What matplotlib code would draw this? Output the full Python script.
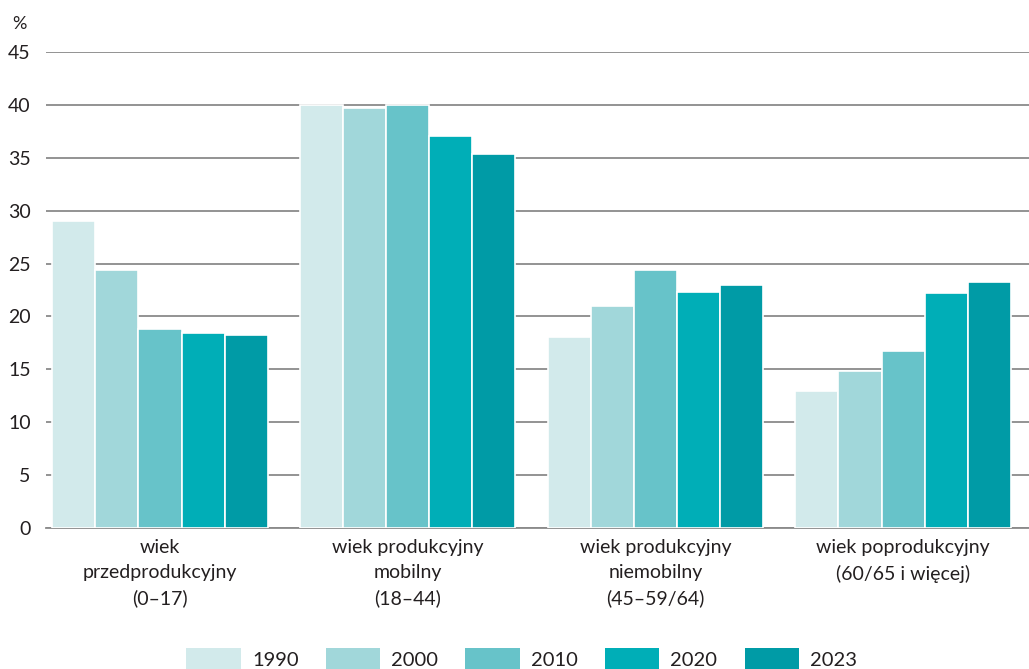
import numpy as np
import matplotlib.pyplot as plt
from matplotlib.patches import Patch

plt.rcParams['font.family'] = ['Lato', 'DejaVu Sans']

groups = ["wiek\nprzedprodukcyjny\n(0–17)", "wiek produkcyjny\nmobilny\n(18–44)",
          "wiek produkcyjny\nniemobilny\n(45–59/64)", "wiek poprodukcyjny\n(60/65 i więcej)"]
years = ["1990", "2000", "2010", "2020", "2023"]
v1990 = [29.0, 40.0, 18.1, 12.9]
v2000 = [24.4, 39.7, 21.0, 14.8]
v2010 = [18.8, 40.0, 24.4, 16.7]
v2020 = [18.4, 37.1, 22.3, 22.2]
v2023 = [18.2, 35.4, 23.0, 23.3]
series = [v1990, v2000, v2010, v2020, v2023]
colors = ["#d2eaeb", "#a1d7da", "#67c3c9", "#00aeb7", "#009ba6"]
txt = "#231f20"

fig = plt.figure(figsize=(10.29, 6.69), dpi=100)
ax = fig.add_axes([0.0447, 0.211, 0.9553, 0.711])

x = np.arange(len(groups))
w = 0.174
for i, vals in enumerate(series):
    ax.bar(x + (i - 2) * w, vals, w, color=colors[i], edgecolor="white", linewidth=1.2, zorder=3)

ax.set_ylim(0, 45)
ax.set_xlim(-0.46, 3.508)
ax.set_yticks(range(0, 46, 5))
ax.yaxis.grid(True, color="#8a8a8a", linewidth=1.3, zorder=0)
ax.tick_params(axis="y", length=0, labelsize=14, colors=txt, pad=11)
ax.tick_params(axis="x", length=0)
ax.set_xticks([])
for s in ["top", "right", "left"]:
    ax.spines[s].set_visible(False)
ax.spines["bottom"].set_color("#8a8a8a")
ax.spines["bottom"].set_linewidth(1.3)

for xi, g in zip(x, groups):
    ax.text(xi, -1.1, g, ha="center", va="top", fontsize=14, color=txt, linespacing=1.55,
            transform=ax.transData)

fig.text(0.012, 0.957, "%", fontsize=13, color=txt)

handles = [Patch(facecolor=c, edgecolor="none") for c in colors]
fig.legend(handles, years, loc="lower center", bbox_to_anchor=(0.507, -0.03), ncol=5, frameon=False,
           fontsize=14.5, handlelength=2.7, handleheight=1.4, columnspacing=1.35, handletextpad=0.55,
           labelcolor=txt)

fig.savefig("out.png", dpi=100)
